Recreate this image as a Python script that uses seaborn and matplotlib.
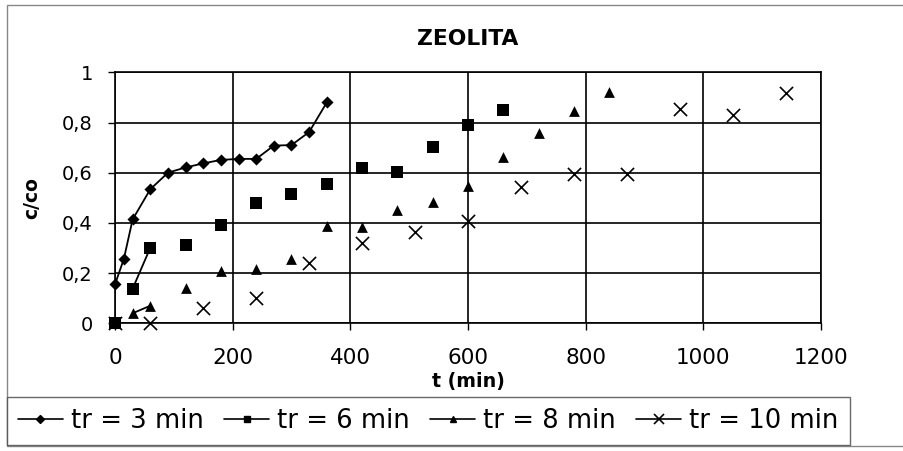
import numpy as np
import pandas as pd
import matplotlib
matplotlib.use("Agg")
import matplotlib.pyplot as plt
from matplotlib.lines import Line2D
from matplotlib.patches import Rectangle
import seaborn as sns

# Breakthrough data: time (min) vs c/co for each residence time
t_3 = [0, 15, 30, 60, 90, 120, 150, 180, 210, 240, 270, 300, 330, 360]
c_3 = [0.155, 0.256, 0.414, 0.534, 0.600, 0.621, 0.637, 0.651, 0.655, 0.655,
       0.708, 0.710, 0.762, 0.880]
seg_3 = [0] * 14

t_6 = [0, 30, 60, 120, 180, 240, 300, 360, 420, 480, 540, 600, 660]
c_6 = [0.0, 0.138, 0.301, 0.312, 0.392, 0.481, 0.514, 0.555, 0.617, 0.604,
       0.701, 0.790, 0.849]
seg_6 = [0, 1, 1, 2, 3, 4, 5, 6, 7, 8, 9, 10, 11]

t_8 = [0, 30, 60, 120, 180, 240, 300, 360, 420, 480, 540, 600, 660, 720, 780, 840]
c_8 = [0.0, 0.040, 0.070, 0.139, 0.208, 0.216, 0.257, 0.389, 0.385, 0.451,
       0.485, 0.548, 0.661, 0.757, 0.847, 0.923]
seg_8 = [0, 1, 1, 2, 3, 4, 5, 6, 7, 8, 9, 10, 11, 12, 13, 14]

t_10 = [0, 60, 150, 240, 330, 420, 510, 600, 690, 780, 870, 960, 1050, 1140]
c_10 = [0.0, 0.0, 0.060, 0.102, 0.240, 0.319, 0.362, 0.408, 0.544, 0.595,
        0.595, 0.854, 0.830, 0.919]

labels = ["tr = 3 min", "tr = 6 min", "tr = 8 min", "tr = 10 min"]
x_ticks = [0, 200, 400, 600, 800, 1000, 1200]
y_ticks = [0, 0.2, 0.4, 0.6, 0.8, 1.0]
y_tick_labels = ["0", "0,2", "0,4", "0,6", "0,8", "1"]

sns.set_theme(style="white")
plt.rcParams["font.family"] = ["DejaVu Sans"]
plt.rcParams["text.color"] = "black"
plt.rcParams["axes.labelcolor"] = "black"

W, H = 904, 451
fig = plt.figure(figsize=(W / 100, H / 100), dpi=100)
ax = fig.add_axes([115 / W, 1 - 323.3 / H, (821 - 115) / W, (323.3 - 72.3) / H])

df3 = pd.DataFrame({"t": t_3, "c": c_3, "seg": seg_3})
df6 = pd.DataFrame({"t": t_6, "c": c_6, "seg": seg_6})
df8 = pd.DataFrame({"t": t_8, "c": c_8, "seg": seg_8})
df10 = pd.DataFrame({"t": t_10, "c": c_10})

# connecting lines
for d in (df3, df6, df8):
    sns.lineplot(data=d, x="t", y="c", units="seg", estimator=None, sort=False,
                 color="black", lw=1.3, ax=ax, legend=False, zorder=3,
                 clip_on=False)

# markers
sns.scatterplot(data=df3, x="t", y="c", marker="D", s=38, color="black",
                edgecolor="black", linewidth=0, ax=ax, zorder=4, legend=False,
                clip_on=False)
sns.scatterplot(data=df6, x="t", y="c", marker="s", s=70, color="black",
                edgecolor="black", linewidth=0, ax=ax, zorder=4, legend=False,
                clip_on=False)
sns.scatterplot(data=df8, x="t", y="c", marker="^", s=60, color="black",
                edgecolor="black", linewidth=0, ax=ax, zorder=4, legend=False,
                clip_on=False)
sns.scatterplot(data=df10, x="t", y="c", marker="x", s=90, color="black",
                linewidth=1.2, ax=ax, zorder=4, legend=False, clip_on=False)

ax.set_xlim(0, 1200)
ax.set_ylim(0, 1)
ax.set_xticks(x_ticks)
ax.set_xticklabels([str(v) for v in x_ticks])
ax.set_yticks(y_ticks)
ax.set_yticklabels(y_tick_labels)
ax.grid(True, color="black", lw=1.2)
ax.set_axisbelow(True)
for sp in ax.spines.values():
    sp.set_color("black")
    sp.set_linewidth(1.2)
ax.tick_params(axis="both", which="major", direction="out", length=5, width=1,
               color="black", labelcolor="black", bottom=True, left=True)
ax.tick_params(axis="x", labelsize=15.5, pad=13)
ax.tick_params(axis="y", labelsize=14, pad=11)
ax.set_xlabel("t (min)", fontsize=13.7, fontweight="bold", labelpad=3)
ax.set_ylabel("c/co", fontsize=13.5, fontweight="bold", labelpad=15)
ax.set_title("ZEOLITA", fontsize=15.7, fontweight="bold", pad=20, color="black")

handles = [
    Line2D([], [], color="black", lw=1.2, marker="D", ms=4),
    Line2D([], [], color="black", lw=1.2, marker="s", ms=5),
    Line2D([], [], color="black", lw=1.2, marker="^", ms=5),
    Line2D([], [], color="black", lw=1.2, marker="x", ms=7, mew=1.2),
]
leg = fig.legend(handles, labels, loc="lower left", ncol=4,
                 bbox_to_anchor=(7 / W, 1 - 445 / H),
                 fontsize=18.6, frameon=True, fancybox=False, edgecolor="#444444",
                 handlelength=1.74, handletextpad=0.31, columnspacing=0.79,
                 borderaxespad=0, borderpad=0.42)
leg.get_frame().set_linewidth(1.0)

# chart area border
fig.patches.append(Rectangle((7 / W, 1 - 446 / H), 1.0, (446 - 5) / H,
                             transform=fig.transFigure, fill=False,
                             edgecolor="#888888", lw=1.0))

fig.savefig("out.png", dpi=100)
